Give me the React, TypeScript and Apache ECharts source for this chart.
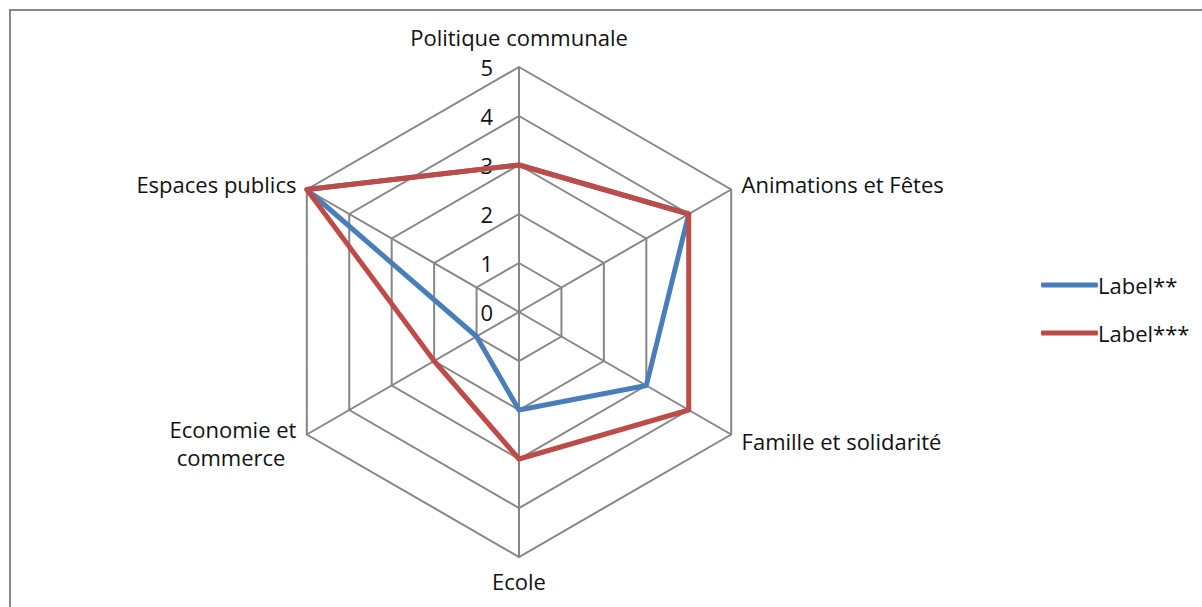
import React, { useEffect, useRef } from "react";
import * as echarts from "echarts";

// Indicators in ECharts order (counter-clockwise starting at top)
const indicatorNames = [
  "Politique communale",
  "Espaces publics",
  "Economie et\ncommerce",
  "Ecole",
  "Famille et solidarité",
  "Animations et Fêtes",
];
const maxValue = 5;
const seriesNames = ["Label**", "Label***"];
const label2Values = [3, 5, 1, 2, 3, 4];
const label3Values = [3, 5, 2, 3, 4, 4];
const colors = ["#4A7EBB", "#BE4B48"];

const FONT = "Open Sans";
const FS = 22;

export default function App() {
  const ref = useRef<HTMLDivElement>(null);
  useEffect(() => {
    if (!ref.current) return;
    const chart = echarts.init(ref.current, undefined, { renderer: "svg" });
    chart.setOption({
      animation: false,
      backgroundColor: "#ffffff",
      textStyle: { fontFamily: FONT },
      graphic: [
        {
          type: "rect",
          shape: { x: 10, y: 10, width: 1300, height: 700 },
          style: { fill: "none", stroke: "#868686", lineWidth: 2 },
        },
      ],
      legend: {
        orient: "vertical",
        left: 1036,
        top: 267,
        itemWidth: 57,
        itemHeight: 5,
        itemGap: 22,
        icon: "roundRect",
        textStyle: {
          fontFamily: FONT,
          fontSize: FS,
          color: "#111",
          padding: [0, 0, 0, -5],
          lineHeight: 26,
        },
        data: seriesNames,
      },
      radar: {
        center: [519, 312],
        radius: 245,
        shape: "polygon",
        splitNumber: 5,
        startAngle: 90,
        axisName: {
          color: "#111",
          fontFamily: FONT,
          fontSize: FS,
          formatter: (n: string) =>
            n === indicatorNames[0]
              ? `{t|${n}}`
              : n
                  .split("\n")
                  .map((s, i) => `{${i === 0 ? "a" : "b"}|${s}}`)
                  .join("\n"),
          rich: {
            t: {
              fontFamily: FONT,
              fontSize: FS,
              color: "#111",
              lineHeight: 24,
              padding: [0, 0, 8, 0],
            },
            a: { fontFamily: FONT, fontSize: FS, color: "#111", lineHeight: 24 },
            b: {
              fontFamily: FONT,
              fontSize: FS,
              color: "#111",
              lineHeight: 24,
              padding: [9, 11, 0, 0],
            },
          },
        },
        nameGap: 12,
        indicator: indicatorNames.map((n, i) =>
          i === 0
            ? { name: n, min: 0, max: maxValue, axisLabel: { show: true } }
            : { name: n, min: 0, max: maxValue }
        ),
        axisLabel: {
          show: false,
          color: "#111",
          fontFamily: FONT,
          fontSize: FS,
          lineHeight: 18,
          margin: 26,
        },
        axisTick: { show: false },
        axisLine: { lineStyle: { color: "#868686", width: 2 } },
        splitLine: { lineStyle: { color: "#868686", width: 2 } },
        splitArea: { show: false },
      },
      series: [
        {
          type: "radar",
          symbol: "none",
          data: [
            {
              name: seriesNames[0],
              value: label2Values,
              lineStyle: { color: colors[0], width: 5 },
              itemStyle: { color: colors[0] },
            },
            {
              name: seriesNames[1],
              value: label3Values,
              lineStyle: { color: colors[1], width: 5 },
              itemStyle: { color: colors[1] },
            },
          ],
        },
      ],
    });
    return () => chart.dispose();
  }, []);
  return (
    <div
      ref={ref}
      style={{ position: "fixed", left: 0, top: 0, width: 1202, height: 607 }}
    />
  );
}
